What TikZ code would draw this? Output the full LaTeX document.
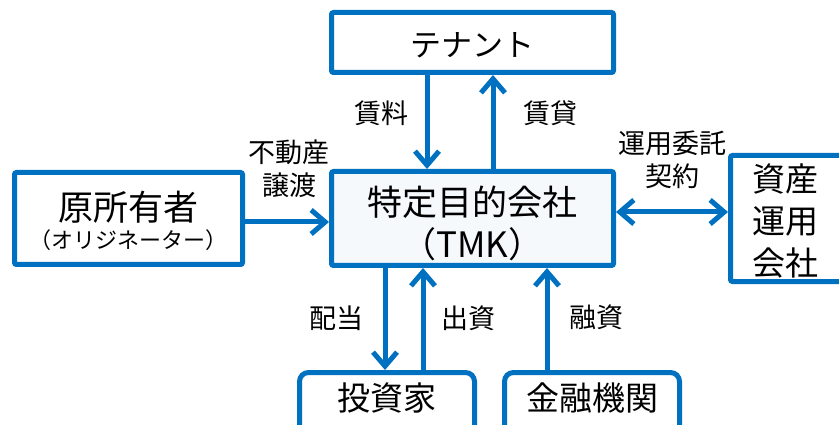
\documentclass[tikz,border=0pt]{standalone}
\usepackage{fontspec}
\setmainfont{Noto Sans CJK JP}
\usetikzlibrary{positioning,arrows.meta}
\definecolor{tmkblue}{RGB}{0,112,192}
\definecolor{tmkfill}{RGB}{245,249,252}
\newcommand{\boxtext}[2]{\raisebox{#1}[\height][\depth]{\begin{tabular}{@{}c@{}}#2\end{tabular}}}
\tikzset{
  box/.style={draw=tmkblue, line width=5pt, rounded corners=2pt, inner sep=0pt},
  rbox/.style={box, rounded corners=9pt},
  flow/.style={draw=tmkblue, line width=5pt, -{Straight Barb[length=14pt,width=24pt]}},
  both/.style={draw=tmkblue, line width=5pt, {Straight Barb[length=14pt,width=24pt]}-{Straight Barb[length=14pt,width=24pt]}},
  lbl/.style={font=\fontsize{27}{33}\selectfont, align=center, inner sep=0pt},
}

\begin{document}
\begin{tikzpicture}[x=1pt, y=-1pt]
	\useasboundingbox (0,0) rectangle (839,425);

	\node[box, fill=tmkfill, minimum width=282pt, minimum height=94pt, font=\fontsize{35}{38}\selectfont] (tmk) at (472.5,218.5) {\boxtext{-9pt}{特定目的会社\\（TMK）}};
	\node[box, minimum width=282pt, minimum height=60pt, font=\fontsize{31}{36}\selectfont] (tenant) [above=94pt of tmk] {\boxtext{-7pt}{テナント}};
	\node[box, minimum width=228pt, minimum height=92pt, font=\fontsize{35}{34}\selectfont] (owner) [left=84pt of tmk] {\boxtext{-6pt}{原所有者\\[-6pt]{\fontsize{22}{26}\selectfont （オリジネーター）}}};
	\node[box, minimum width=140pt, minimum height=122pt, font=\fontsize{33}{42}\selectfont] (amc) [right=112pt of tmk] {\raisebox{-7pt}[\height][\depth]{\begin{tabular}{@{}c@{\hspace{30pt}}}資産\\運用\\会社\end{tabular}}};
	\node[rbox, minimum width=175pt, minimum height=70pt, font=\fontsize{33}{40}\selectfont] (investor) at (387,407.5) {\boxtext{5.5pt}{投資家}};
	\node[rbox, minimum width=175pt, minimum height=70pt, font=\fontsize{33}{40}\selectfont] (bank) [right=25pt of investor] {\boxtext{5pt}{金融機関}};

	% flows
	\draw[flow] ([xshift=-45.5pt]tenant.south) -- ([xshift=-45.5pt]tmk.north);
	\draw[flow] ([xshift=20.5pt]tmk.north) -- ([xshift=20.5pt]tenant.south);
	\draw[flow] ([yshift=-3.5pt]owner.east) -- ([yshift=-3.5pt]tmk.west);
	\draw[both] ([yshift=6.5pt]tmk.east) -- ([yshift=6.5pt]amc.west);
	\draw[flow] ([xshift=-87.5pt]tmk.south) -- ([xshift=-87.5pt]tmk.south |- investor.north);
	\draw[flow] ([xshift=-49.5pt]tmk.south |- investor.north) -- ([xshift=-49.5pt]tmk.south);
	\draw[flow] ([xshift=74.5pt]tmk.south |- bank.north) -- ([xshift=74.5pt]tmk.south);

	% labels
	\node[lbl] (rent) at (381,113) {賃料};
	\node[lbl] (lease) at (550,113) {賃貸};
	\node[lbl] (transfer) at (289,168.5) {不動産\\譲渡};
	\node[lbl] (contract) at (672,160) {運用委託\\契約};
	\node[lbl] (dividend) at (336,318) {配当};
	\node[lbl] (invest) at (468,318) {出資};
	\node[lbl] (loan) at (596,317) {融資};
\end{tikzpicture}
\end{document}
